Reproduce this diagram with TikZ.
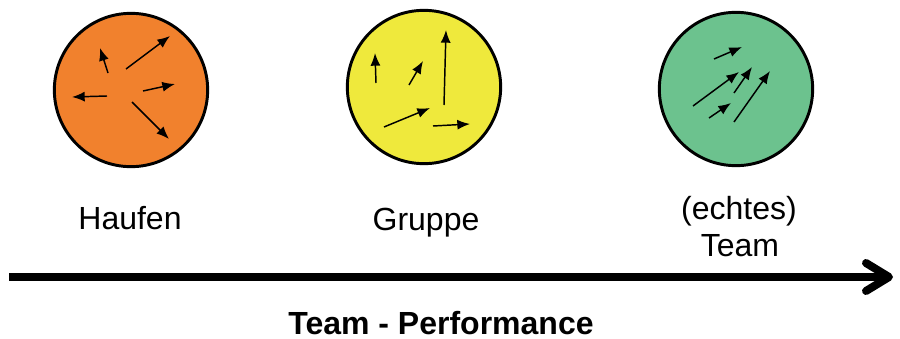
\documentclass[tikz,border=0pt]{standalone}
\usepackage{fontspec}
\setmainfont{Liberation Sans}
\usetikzlibrary{arrows.meta}
\definecolor{orangefill}{RGB}{241,129,45}
\definecolor{yellowfill}{RGB}{239,233,60}
\definecolor{greenfill}{RGB}{108,194,142}
\tikzset{
  blob/.style={circle, draw=black, line width=2.2pt, inner sep=0pt, minimum size=115pt},
  vec/.style={line width=1.1pt, -{Latex[length=9.5pt,width=7.5pt]}},
  lbl/.style={font=\fontsize{24}{28}\selectfont, anchor=base, inner sep=0pt},
  axis/.style={line width=6pt},
  axishead/.style={line width=6pt, line cap=round, line join=round}
}
\begin{document}
\begin{tikzpicture}[x=0.75pt,y=-0.75pt]
\useasboundingbox (0,0) rectangle (900,339);
\fill[white] (0,0) rectangle (900,339);

\node[blob, fill=orangefill] (haufen) at (131,90) {};
\node[blob, fill=yellowfill] (gruppe) at (424,87) {};
\node[blob, fill=greenfill] (team) at (736,89) {};

% Haufen arrows
\draw[vec] (108,73) -- (100,48);
\draw[vec] (126,69) -- (170,36);
\draw[vec] (107,96) -- (72,97);
\draw[vec] (143,91) -- (175,84);
\draw[vec] (132,102) -- (169,139);

% Gruppe arrows
\draw[vec] (376,83) -- (375,53);
\draw[vec] (409,85) -- (423,61);
\draw[vec] (444,105) -- (446,30);
\draw[vec] (384,127) -- (430,108);
\draw[vec] (433,126) -- (470,124);

% Team arrows
\draw[vec] (714,59) -- (742,47);
\draw[vec] (693,106) -- (739,72);
\draw[vec] (734,93) -- (752,67);
\draw[vec] (709,118) -- (731,103);
\draw[vec] (734,122) -- (770,71);

\node[lbl] (lhaufen) at (130,229) {Haufen};
\node[lbl] (lgruppe) at (426,230) {Gruppe};
\node[lbl] (lechtes) at (739,219) {(echtes)};
\node[lbl] (lteam) at (740,256) {Team};

\coordinate (axstart) at (9,277);
\coordinate (axend) at (889,277);
\coordinate (hup) at (866,263);
\coordinate (hdown) at (866,291);
\draw[axis] (axstart) -- (axend);
\draw[axishead] (hup) -- (axend) -- (hdown);

\node[font=\fontsize{24}{28}\selectfont\bfseries, anchor=base, inner sep=0pt] (perf) at (441,334) {Team - Performance};
\end{tikzpicture}
\end{document}
